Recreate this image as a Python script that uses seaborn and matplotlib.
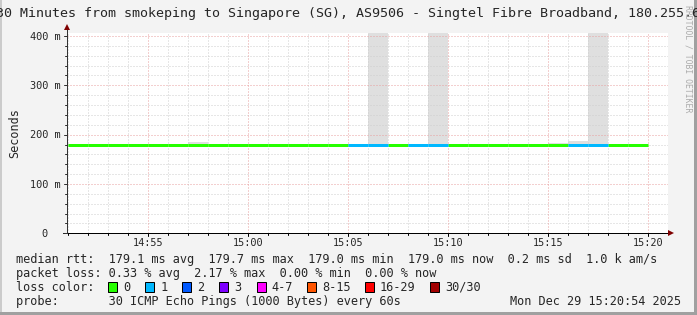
import numpy as np
import pandas as pd
import matplotlib
matplotlib.use("Agg")
import matplotlib.pyplot as plt
import matplotlib.transforms as mtransforms
from matplotlib.patches import Rectangle
import seaborn as sns

# ---------------- data ----------------
# interval start, minutes after 14:50 (each interval lasts one minute)
interval_start = [1, 2, 3, 4, 5, 6, 7, 8, 9, 10, 11, 12, 13, 14, 15,
                  16, 17, 18, 19, 20, 21, 22, 23, 24, 25, 26, 27, 28, 29]
median_ms = [179.7, 179.7, 179.0, 179.0, 179.0, 179.0, 179.0, 179.0, 179.0, 179.0,
             179.0, 179.0, 179.0, 179.0, 179.0, 179.0, 179.0, 179.0, 179.0, 179.0,
             179.0, 179.0, 179.0, 179.4, 179.4, 179.0, 179.0, 179.0, 179.0]
lost_pings = [0, 0, 0, 0, 0, 0, 0, 0, 0, 0, 0, 0, 0, 0, 1,
              1, 0, 1, 1, 0, 0, 0, 0, 0, 0, 1, 1, 0, 0]
smoke_low = [178.5] * 29
smoke_high = [180.5, 180.5, 180.5, 180.5, 180.5, 180.5, 184.5, 180.5, 180.5, 180.5,
              180.5, 180.5, 180.5, 180.5, 180.5, 450.0, 180.5, 180.5, 450.0, 180.5,
              180.5, 180.5, 180.5, 180.5, 183.7, 187.7, 450.0, 180.5, 180.5]

tick_minutes = [5, 10, 15, 20, 25, 30]
tick_labels = ["14:55", "15:00", "15:05", "15:10", "15:15", "15:20"]
y_ticks = [0, 100, 200, 300, 400]
y_tick_labels = ["0", "100 m", "200 m", "300 m", "400 m"]

loss_labels = ["0", "1", "2", "3", "4-7", "8-15", "16-29", "30/30"]
loss_colors = ["#26ff00", "#00b8ff", "#0059ff", "#7e00ff", "#ff00ff",
               "#ff5500", "#ff0000", "#a10000"]

title = "30 Minutes from smokeping to Singapore (SG), AS9506 - Singtel Fibre Broadband, 180.255.6"
legend_rows = [
    "median rtt:  179.1 ms avg  179.7 ms max  179.0 ms min  179.0 ms now  0.2 ms sd  1.0 k am/s",
    "packet loss: 0.33 % avg  2.17 % max  0.00 % min  0.00 % now",
    "loss color:",
    "probe:       30 ICMP Echo Pings (1000 Bytes) every 60s",
]
timestamp = "Mon Dec 29 15:20:54 2025"

# ---------------- style ----------------
sns.set_style("white")
plt.rcParams["font.family"] = ["DejaVu Sans Mono", "DejaVu Sans"]
plt.rcParams["font.monospace"] = ["DejaVu Sans Mono"]

W, H = 697, 315
BG = "#f3f3f3"
fig = plt.figure(figsize=(W / 100, H / 100), dpi=100, facecolor=BG)

# plot canvas in pixels
left_px, right_px = 67.0, 668.0
top_px, bottom_px = 33.0, 233.3
ax = fig.add_axes([left_px / W, 1 - bottom_px / H,
                   (right_px - left_px) / W, (bottom_px - top_px) / H])
ax.set_facecolor("white")
px_per_min = 20.0
t_at_grid = 5.0
grid_px = 148.3
xmin = t_at_grid - (grid_px - left_px) / px_per_min
xmax = t_at_grid + (right_px - grid_px) / px_per_min
ax.set_xlim(xmin, xmax)
px_per_ms = (233.3 - 36.0) / 400.0
ymax = (bottom_px - top_px) / px_per_ms
ax.set_ylim(0, ymax)
for s in ax.spines.values():
    s.set_visible(False)
ax.set_xticks([])
ax.set_yticks([])

# smoke
ax.bar(interval_start, np.array(smoke_high) - np.array(smoke_low), bottom=smoke_low,
       width=1.0, align="edge", color="#dfdfdf", linewidth=0, zorder=1)

# grid
LW = 0.72
minor_c, major_c = "#cfcfcf", "#e8a0a0"
dash = (0, (1, 2))
for v in range(20, 401, 20):
    if v % 100:
        ax.axhline(v, color=minor_c, lw=LW, ls=dash, zorder=2)
for m in range(1, 31):
    if m % 5:
        ax.axvline(m, color=minor_c, lw=LW, ls=dash, zorder=2)
for v in y_ticks[1:]:
    ax.axhline(v, color=major_c, lw=LW, ls=dash, zorder=2)
for m in tick_minutes:
    ax.axvline(m, color=major_c, lw=LW, ls=dash, zorder=2)

# median line coloured by loss
rows = []
for i, (t0, v, l) in enumerate(zip(interval_start, median_ms, lost_pings)):
    rows.append({"t": t0, "ms": v, "loss": loss_labels[l], "seg": i})
    rows.append({"t": t0 + 1, "ms": v, "loss": loss_labels[l], "seg": i})
df = pd.DataFrame(rows)
pal = {lab: col for lab, col in zip(loss_labels, loss_colors)}
sns.lineplot(data=df, x="t", y="ms", hue="loss", units="seg", estimator=None,
             palette={k: pal[k] for k in df["loss"].unique()}, linewidth=2.16,
             legend=False, ax=ax, zorder=4, solid_capstyle="butt")
ax.set_xlabel("")
ax.set_ylabel("")
ax.set_xlim(xmin, xmax)
ax.set_ylim(0, ymax)

# axes lines
axis_c = "#333333"
ax.plot([xmin - 4 / px_per_min, xmax + 1 / px_per_min], [0, 0], color="black",
        lw=LW, clip_on=False, zorder=5)
ax.plot([xmin, xmin], [0, ymax + 4 / px_per_ms], color=axis_c, lw=LW,
        clip_on=False, zorder=5)
ax.plot([xmin], [ymax + 6 / px_per_ms], marker="^", color="#7f0000", ms=5,
        clip_on=False, zorder=6, mew=0)
ax.plot([xmax + 3 / px_per_min], [0], marker=">", color="#7f0000", ms=5,
        clip_on=False, zorder=6, mew=0)
# tick marks
for v in range(0, 401, 20):
    ln = 3 if v % 100 == 0 else 2
    ax.plot([xmin - ln / px_per_min, xmin], [v, v], color=axis_c, lw=LW,
            clip_on=False, zorder=5)
for m in range(1, 31):
    ln = 3 if m % 5 == 0 else 2
    ax.plot([m, m], [0, -ln / px_per_ms], color="black", lw=LW,
            clip_on=False, zorder=5)

# axis labels
ytrans = mtransforms.blended_transform_factory(ax.transAxes, ax.transData)
for v, lab in zip(y_ticks, y_tick_labels):
    off = -6.5 if lab != "0" else -19.0
    tr = mtransforms.offset_copy(ytrans, fig=fig, x=off, y=-3.7, units="dots")
    ax.text(0, v, lab, transform=tr, ha="right", va="baseline", fontsize=7.4)
for m, lab in zip(tick_minutes, tick_labels):
    tr = mtransforms.offset_copy(ax.transData, fig=fig, x=0, y=-12.7, units="dots")
    ax.text(m, 0, lab, transform=tr, ha="center", va="baseline", fontsize=7.4)


def fx(px):
    return px / W


def fy(py):
    return 1 - py / H


fig.text(fx(14.5), fy(132.7), "Seconds", rotation=90, ha="center", va="center",
         fontsize=8.5)

# title
fig.text(fx(-4.2), fy(17.5), title, ha="left", va="baseline", fontsize=9.63)

# watermark
fig.text(fx(688), fy(5), "RRDTOOL / TOBI OETIKER", rotation=-90, ha="center",
         va="top", fontsize=5.9, color="#ababab")

# legend rows
baselines = [263, 277, 291, 305]
for txt, b in zip(legend_rows, baselines):
    fig.text(fx(16), fy(b), txt, ha="left", va="baseline", fontsize=8.53)
fig.text(fx(680.5), fy(305), timestamp, ha="right", va="baseline", fontsize=8.53)

box_x = [108.3, 145.3, 182.3, 219.3, 256.7, 307.3, 365.0, 430.3]
for bx, lab, col in zip(box_x, loss_labels, loss_colors):
    fig.patches.append(Rectangle((fx(bx), fy(292)), 9 / W, 10 / H,
                                 transform=fig.transFigure, facecolor=col,
                                 edgecolor="black", linewidth=0.72))
    fig.text(fx(bx + 15), fy(291), lab, ha="left", va="baseline", fontsize=8.53)

# frame shading
fig.patches.append(Rectangle((0, 0), 2 / W, 1, transform=fig.transFigure,
                             facecolor="#cbcbcb", lw=0))
fig.patches.append(Rectangle((0, 0), 1, 3 / H, transform=fig.transFigure,
                             facecolor="#a0a0a0", lw=0))
fig.patches.append(Rectangle((1 - 3 / W, 0), 3 / W, 1, transform=fig.transFigure,
                             facecolor="#a0a0a0", lw=0))

fig.savefig("out.png", dpi=100, facecolor=BG)
